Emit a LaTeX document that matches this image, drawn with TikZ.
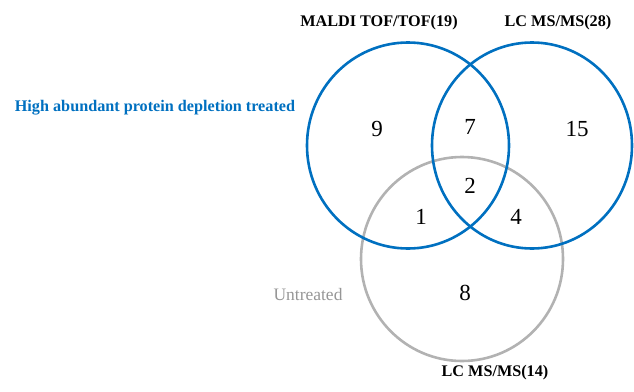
\documentclass[tikz,border=0pt]{standalone}
\usepackage{fontspec}
\setmainfont{Liberation Serif}
\definecolor{vblue}{RGB}{0,112,192}
\definecolor{vgray}{RGB}{178,178,178}
\definecolor{tgray}{RGB}{150,150,150}
\begin{document}
\begin{tikzpicture}[x=1pt,y=-1pt,
  setline/.style={line width=2.6pt},
  num/.style={font=\fontsize{23}{26}\selectfont, inner sep=0pt},
  lab/.style={font=\fontsize{16.2}{19}\selectfont\bfseries, inner sep=0pt}]
\useasboundingbox (0,0) rectangle (634,391);
\coordinate (cL) at (408,145.5);
\coordinate (cR) at (532,145.5);
\coordinate (cU) at (462,259);
\draw[setline, vgray] (cU) ellipse [x radius=101, y radius=102];
\draw[setline, vblue] (cL) ellipse [x radius=101, y radius=103];
\draw[setline, vblue] (cR) ellipse [x radius=100, y radius=103];
\node[lab] (mal) at (379,23) {MALDI TOF/TOF(19)};
\node[lab] (lc28) at (558,23) {LC MS/MS(28)};
\node[lab] (lc14) at (495,373) {LC MS/MS(14)};
\node[lab, text=vblue] (hap) at (155,108) {High abundant protein depletion treated};
\node[font=\fontsize{17.5}{20}\selectfont, text=tgray, inner sep=0pt] (unt) at (308,295) {Untreated};
\node[num] (n9) at (377,129) {9};
\node[num] (n7) at (470,127) {7};
\node[num] (n15) at (577,129) {15};
\node[num] (n2) at (470,186) {2};
\node[num] (n1) at (421,217) {1};
\node[num] (n4) at (516,217) {4};
\node[num] (n8) at (465,293) {8};
\end{tikzpicture}
\end{document}
